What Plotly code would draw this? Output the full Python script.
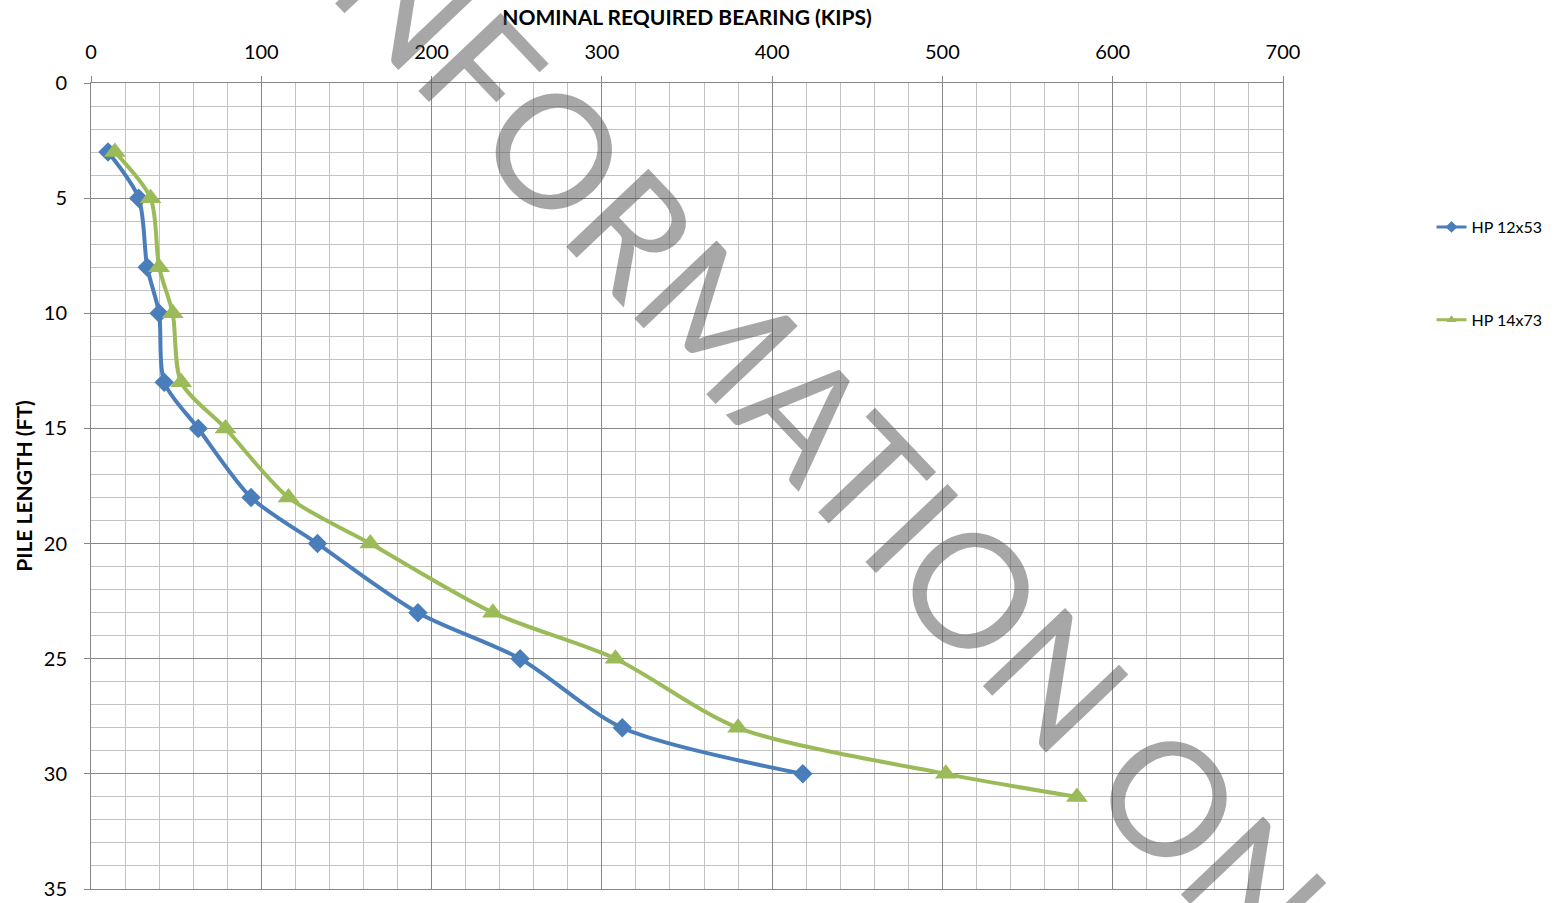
import plotly.graph_objects as go

# Pile length (ft) vs. nominal required bearing (kips)
length_12x53 = [3, 5, 8, 10, 13, 15, 18, 20, 23, 25, 28, 30]
bearing_12x53 = [10, 28, 33, 40, 43, 63, 94, 133, 192, 252, 312, 418]

length_14x73 = [3, 5, 8, 10, 13, 15, 18, 20, 23, 25, 28, 30, 31]
bearing_14x73 = [14, 35, 40, 48, 53, 79, 116, 164, 236, 308, 380, 502, 579]

series_names = ["HP 12x53", "HP 14x73"]
x_ticks = [0, 100, 200, 300, 400, 500, 600, 700]
y_ticks = [0, 5, 10, 15, 20, 25, 30, 35]

BLUE = "#4a7ebb"
GREEN = "#9bbb59"
FONT = "Lato"

fig = go.Figure()

series = [
    (series_names[0], bearing_12x53, length_12x53, BLUE, "diamond", 15),
    (series_names[1], bearing_14x73, length_14x73, GREEN, "triangle-up", 19),
]

for name, xs, ys, color, symbol, size in series:
    fig.add_trace(go.Scatter(
        x=xs, y=ys, name=name, mode="lines+markers",
        line=dict(color=color, width=4, shape="spline", smoothing=0.8),
        marker=dict(symbol=symbol, size=size, color=color),
        showlegend=False, hoverinfo="x+y+name",
    ))
    # legend entry with a smaller marker
    fig.add_trace(go.Scatter(
        x=[None], y=[None], name=name, mode="lines+markers",
        line=dict(color=color, width=3),
        marker=dict(symbol=symbol, size=9, color=color),
        legendgroup=name, showlegend=True,
    ))

major_grid = "#868686"
minor_grid = "#c3c3c3"

fig.update_xaxes(
    side="top", range=[0, 700], tickvals=x_ticks, automargin=False,
    showgrid=True, gridcolor=major_grid, gridwidth=1,
    minor=dict(dtick=20, showgrid=True, gridcolor=minor_grid, gridwidth=1),
    showline=True, linecolor=major_grid, linewidth=1, mirror=True,
    ticks="outside", ticklen=6, tickcolor=major_grid,
    tickfont=dict(family=FONT, size=20, color="#000000"),
    ticklabelstandoff=9,
    zeroline=False,
    title=dict(text="<b>NOMINAL REQUIRED BEARING (KIPS)</b>",
               font=dict(family=FONT, size=21, color="#000000"), standoff=7),
)

fig.update_yaxes(
    range=[35, 0], tickvals=y_ticks, automargin=False,
    showgrid=True, gridcolor=major_grid, gridwidth=1,
    minor=dict(dtick=1, showgrid=True, gridcolor=minor_grid, gridwidth=1),
    showline=True, linecolor=major_grid, linewidth=1, mirror=True,
    ticks="outside", ticklen=6, tickcolor=major_grid,
    tickfont=dict(family=FONT, size=20, color="#000000"),
    ticklabelstandoff=13,
    zeroline=False,
    title=dict(text="<b>PILE LENGTH (FT)</b>",
               font=dict(family=FONT, size=21, color="#000000"), standoff=5),
)

# Watermark
fig.add_annotation(
    text="INFORMATION ONLY", xref="paper", yref="paper",
    x=0.658, y=0.502, xanchor="center", yanchor="middle",
    textangle=46.5, showarrow=False,
    font=dict(family=FONT, size=158, color="rgba(80,80,80,0.5)"),
)

fig.update_layout(
    width=1556, height=903,
    margin=dict(l=91, r=273, t=83, b=14),
    paper_bgcolor="white", plot_bgcolor="white",
    font=dict(family=FONT, color="#000000"),
    legend=dict(
        xref="container", yref="container",
        x=0.920, y=0.7674, xanchor="left", yanchor="top",
        font=dict(family=FONT, size=16, color="#000000"),
        tracegroupgap=69, traceorder="grouped",
        bgcolor="rgba(0,0,0,0)",
    ),
)

fig.write_html("out.html")
